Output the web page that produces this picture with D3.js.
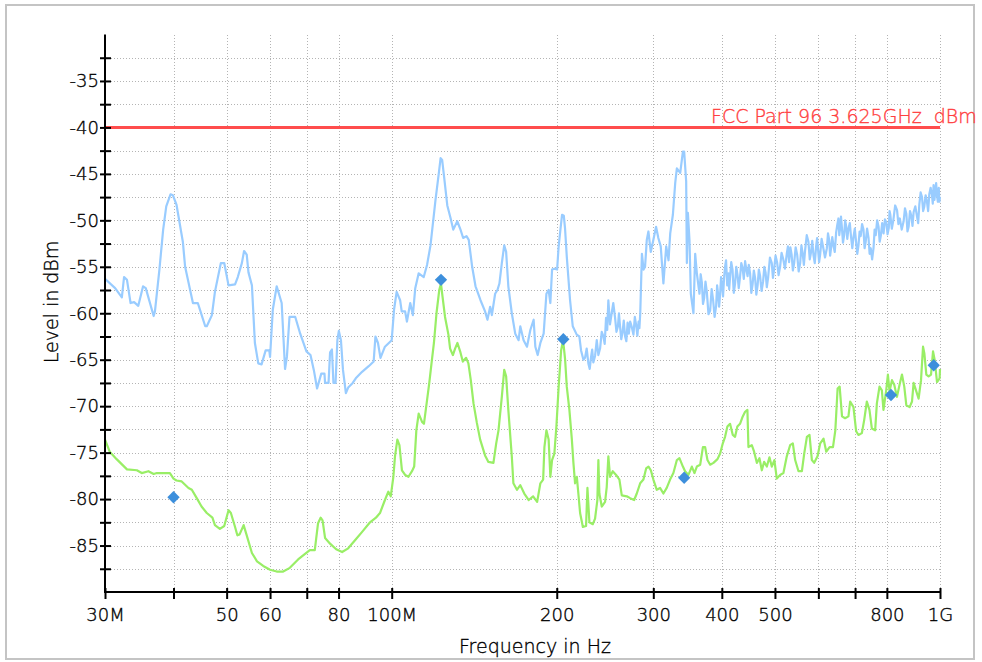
<!DOCTYPE html>
<html>
<head>
<meta charset="utf-8">
<script src="https://cdn.jsdelivr.net/npm/d3@7"></script>
<style>
  html, body { margin: 0; padding: 0; background: #fff; }
  svg { display: block; }
  text { font-family: "DejaVu Sans", sans-serif; font-weight: 300; fill: #000; stroke: #000; stroke-width: 0.35px; }
</style>
</head>
<body>
<svg id="chart" width="982" height="662"></svg>
<script>
// Frequency axis (MHz) ticks and labels ("" = tick without label)
const xTickFreqs  = [30, 40, 50, 60, 70, 80, 100, 200, 300, 400, 500, 600, 700, 800, 1000];
const xTickLabels = ["30M", "", "50", "60", "", "80", "100M", "200", "300", "400", "500", "", "", "800", "1G"];

// Level axis (dBm): labelled ticks and intermediate ticks
const yMajorLevels = [-35, -40, -45, -50, -55, -60, -65, -70, -75, -80, -85];
const yMinorLevels = [-32.5, -37.5, -42.5, -47.5, -52.5, -57.5, -62.5, -67.5, -72.5, -77.5, -82.5, -87.5];

// Limit line
const limitLevel = -40;
const limitLabel = "FCC Part 96 3.625GHz  dBm";

// Peak trace: [frequency MHz, level dBm]
const peakTrace = [
  [30.0,-56.3],[31.3,-57.3],[32.2,-58.3],[32.5,-56.1],[32.9,-56.4],[33.4,-58.9],[33.9,-58.8],[34.5,-59.2],
  [35.2,-57.1],[35.6,-57.3],[36.8,-60.3],[37.0,-59.8],[37.7,-55.3],[38.3,-51.0],[38.8,-48.5],[39.5,-47.2],
  [39.9,-47.3],[40.5,-48.3],[41.6,-52.3],[42.0,-55.0],[43.4,-58.9],[44.3,-58.9],[44.8,-59.8],[45.7,-61.4],
  [46.0,-61.4],[47.0,-60.2],[47.6,-57.7],[48.8,-54.6],[49.5,-54.6],[50.4,-57.0],[51.8,-56.9],[52.4,-56.1],
  [53.3,-54.6],[53.8,-53.3],[54.4,-53.7],[54.8,-55.6],[55.6,-57.0],[56.3,-63.2],[57.1,-65.4],[57.9,-65.5],
  [58.9,-64.0],[59.8,-64.0],[60.0,-64.7],[60.7,-59.6],[61.7,-57.1],[63.0,-58.9],[63.9,-66.0],[64.4,-64.7],
  [65.1,-60.4],[66.7,-60.4],[68.1,-62.2],[69.9,-64.1],[71.1,-64.5],[72.1,-66.1],[73.1,-68.1],[74.4,-66.5],
  [75.4,-66.5],[75.6,-67.5],[76.7,-67.5],[77.2,-64.2],[77.8,-63.9],[78.3,-67.5],[79.0,-67.5],[79.6,-62.9],
  [80.1,-61.9],[80.8,-62.9],[81.5,-66.1],[82.5,-68.6],[83.3,-68.0],[84.9,-67.5],[86.0,-67.0],[88.3,-66.3],
  [90.8,-65.7],[92.7,-65.2],[93.4,-62.5],[94.4,-63.2],[95.4,-64.8],[97.2,-63.6],[100.0,-62.9],[101.0,-59.6],
  [102.1,-57.7],[103.6,-58.6],[104.3,-59.8],[105.8,-59.8],[106.6,-60.9],[108.1,-58.9],[109.3,-60.2],[110.4,-57.3],
  [112.0,-55.7],[114.4,-56.1],[116.0,-54.8],[117.7,-52.7],[120.2,-47.8],[121.9,-44.9],[122.8,-43.3],[123.6,-43.5],
  [124.5,-45.1],[126.3,-48.4],[128.1,-49.8],[129.5,-51.0],[131.7,-50.1],[133.5,-51.0],[135.0,-51.9],[136.9,-51.7],
  [138.2,-52.1],[140.2,-55.0],[142.2,-57.1],[145.2,-58.6],[148.0,-59.8],[149.5,-60.7],[151.2,-59.3],[152.3,-60.2],
  [154.4,-57.9],[155.9,-57.5],[157.2,-56.8],[158.8,-54.6],[160.4,-52.7],[161.7,-53.4],[163.2,-57.1],[165.6,-60.0],
  [168.0,-62.2],[170.4,-62.9],[171.6,-61.4],[174.0,-62.9],[176.5,-63.6],[179.0,-61.8],[181.5,-60.7],[182.8,-63.6],
  [184.6,-64.5],[186.7,-63.2],[189.3,-62.2],[191.5,-57.9],[193.3,-57.5],[194.7,-58.9],[196.1,-55.3],[198.0,-55.2],
  [200.3,-55.3],[201.6,-52.8],[203.1,-51.0],[204.5,-49.4],[206.0,-49.5],[207.1,-50.9],[208.6,-53.9],[211.5,-58.6],
  [213.9,-61.4],[217.5,-62.3],[219.9,-62.5],[221.5,-64.0],[223.7,-65.0],[225.2,-64.8],[226.8,-63.8],[228.4,-65.4],
  [229.7,-66.0],[231.0,-64.7],[232.1,-63.9],[233.2,-65.3],[234.9,-64.6],[236.6,-62.9],[238.2,-64.5],[239.9,-63.8],
  [241.6,-62.0],[243.3,-62.5],[244.6,-63.3],[246.0,-60.5],[247.2,-61.8],[248.4,-58.6],[250.1,-61.2],[251.9,-60.0],
  [253.6,-58.9],[255.4,-60.4],[257.0,-62.0],[258.6,-61.4],[259.7,-60.0],[260.8,-61.3],[262.2,-62.8],[263.6,-62.1],
  [265.0,-60.8],[266.5,-62.5],[267.9,-63.0],[269.3,-61.0],[270.7,-62.2],[272.2,-60.9],[274.1,-61.5],[276.0,-62.3],
  [277.6,-60.4],[279.2,-61.3],[280.6,-62.4],[282.0,-60.9],[283.0,-61.6],[284.0,-60.0],
  [286.0,-53.6],[288.0,-55.3],[289.8,-55.0],[291.9,-52.1],[293.9,-51.2],[296.8,-53.4],
  [300.1,-52.1],[303.5,-50.7],[306.4,-51.9],[309.5,-52.8],[313.0,-56.8],[316.7,-52.8],[319.8,-54.3],[322.1,-51.4],
  [325.7,-49.4],[328.9,-46.0],[331.2,-44.4],[335.9,-44.9],[339.7,-42.6],[341.5,-42.6],[344.4,-45.8],[345.4,-54.6],
  [346.9,-49.2],[349.2,-52.1],[351.2,-57.9],[355.1,-60.0],[357.7,-53.6],[360.2,-55.7],[364.2,-57.9],[366.0,-55.8],
  [367.9,-56.7],[369.6,-59.0],[371.4,-58.4],[373.5,-56.6],[375.6,-57.7],[378.2,-60.1],[380.9,-59.7],[383.3,-57.4],
  [385.7,-58.6],[388.1,-60.4],[390.6,-59.2],[392.2,-57.0],[393.9,-58.0],[395.5,-59.3],[397.2,-57.9],[398.8,-56.1],
  [400.5,-57.0],[402.1,-58.2],[403.8,-56.2],[405.5,-55.0],[407.2,-54.3],[409.2,-57.0],[411.2,-55.7],[412.6,-57.4],
  [414.1,-56.1],[416.2,-54.5],[418.4,-55.3],[420.6,-57.8],[422.9,-56.8],[425.1,-55.0],[427.3,-55.9],[429.5,-57.3],
  [431.8,-56.1],[434.1,-54.6],[436.4,-55.1],[438.7,-56.3],[441.1,-54.4],[443.4,-55.3],[445.7,-56.0],[448.0,-54.8],
  [450.4,-55.7],[452.8,-57.8],[455.2,-56.9],[457.6,-55.4],[460.0,-56.2],[462.4,-58.0],[464.9,-57.0],[467.3,-55.3],
  [469.8,-56.0],[472.7,-57.6],[475.7,-56.6],[478.2,-55.0],[480.7,-55.6],[483.2,-57.2],[485.8,-56.2],[489.6,-54.0],
  [493.4,-54.6],[495.8,-56.2],[498.2,-55.3],[501.3,-53.8],[504.5,-54.5],[507.7,-55.9],[510.9,-55.0],[514.1,-53.5],
  [517.4,-54.1],[521.4,-55.2],[525.5,-53.6],[528.0,-52.8],[530.6,-54.5],[533.4,-52.9],[536.3,-53.7],[539.1,-55.4],
  [542.0,-54.6],[545.4,-52.9],[548.9,-53.7],[552.4,-55.5],[555.9,-54.6],[558.8,-52.7],[561.8,-53.6],[564.6,-54.8],
  [567.5,-53.2],[571.5,-51.6],[575.5,-52.3],[578.7,-54.2],[582.0,-53.4],[584.8,-52.2],[587.7,-53.7],[591.0,-54.6],
  [594.4,-52.8],[596.9,-51.9],[599.4,-53.2],[601.9,-54.5],[604.5,-53.7],[608.3,-52.0],[612.2,-52.9],[617.0,-54.0],
  [621.8,-53.0],[624.8,-51.4],[627.8,-52.1],[630.4,-53.8],[633.1,-52.9],[636.1,-51.8],[639.2,-52.7],[642.8,-53.4],
  [646.5,-51.3],[649.6,-50.5],[652.8,-49.8],[655.1,-51.6],[657.5,-50.8],[659.8,-49.6],[662.2,-50.7],[665.4,-52.4],
  [668.6,-51.6],[671.4,-50.0],[674.3,-50.6],[677.5,-52.0],[680.8,-50.9],[684.7,-50.3],[688.6,-51.9],[691.9,-53.0],
  [695.3,-51.8],[699.2,-50.9],[703.2,-52.4],[706.6,-53.6],[710.1,-52.7],[713.4,-51.2],[716.7,-51.7],[720.9,-50.4],
  [725.2,-51.0],[728.6,-53.0],[732.0,-52.3],[736.3,-50.9],[740.7,-51.9],[744.1,-53.6],[747.6,-53.0],[752.0,-54.2],
  [756.4,-53.0],[759.9,-51.0],[763.5,-51.6],[768.0,-50.0],[772.6,-50.7],[776.2,-52.3],[779.8,-51.7],[784.4,-50.3],
  [789.0,-51.4],[793.5,-49.9],[798.1,-50.2],[802.3,-51.5],[806.6,-50.8],[809.1,-49.0],[811.7,-49.4],[816.8,-50.9],
  [822.0,-50.0],[828.4,-48.4],[834.9,-48.9],[839.8,-50.4],[844.7,-49.8],[851.5,-51.0],[858.3,-50.1],[863.2,-48.7],
  [868.1,-49.3],[872.3,-51.2],[876.6,-50.7],[881.6,-49.0],[886.6,-49.5],[890.9,-50.6],[895.2,-49.1],[901.6,-48.5],
  [908.0,-49.6],[912.4,-50.3],[916.8,-48.3],[922.0,-47.0],[927.2,-47.5],[931.7,-49.0],[936.2,-48.5],[941.5,-47.3],
  [946.8,-48.0],[951.4,-49.0],[956.0,-47.2],[961.4,-46.5],[966.9,-47.3],[970.1,-48.2],[973.4,-46.2],[976.9,-47.8],
  [980.4,-47.0],[983.9,-46.0],[987.4,-47.3],[991.1,-48.0],[994.9,-46.5],[997.4,-48.0],[1000,-47.5]
];

// Average trace: [frequency MHz, level dBm]
const averageTrace = [
  [30.0,-73.6],[30.6,-74.9],[31.5,-75.7],[32.9,-76.8],[34.3,-76.9],[35.0,-77.2],[36.0,-77.0],[36.8,-77.3],
  [37.3,-77.2],[39.4,-77.2],[40.0,-77.8],[40.5,-78.0],[41.4,-78.1],[42.6,-78.8],[43.2,-79.0],[44.1,-79.9],
  [45.0,-80.8],[46.0,-81.5],[47.1,-82.0],[47.6,-82.8],[48.6,-83.2],[49.5,-82.9],[50.4,-81.2],[50.9,-81.5],
  [51.8,-83.0],[52.3,-83.9],[52.8,-83.8],[53.7,-82.8],[54.4,-83.9],[55.6,-85.8],[56.8,-86.7],[58.3,-87.2],
  [60.0,-87.6],[61.7,-87.8],[63.4,-87.8],[65.2,-87.4],[67.5,-86.5],[70.9,-85.5],[72.4,-85.5],[73.4,-82.6],
  [74.2,-82.0],[74.8,-82.3],[75.6,-84.2],[77.2,-84.8],[79.2,-85.4],[81.2,-85.7],[83.3,-85.3],[85.8,-84.4],
  [88.4,-83.5],[91.3,-82.5],[93.6,-82.0],[95.2,-81.5],[97.2,-80.1],[98.6,-79.2],[99.6,-79.7],[100.7,-77.6],
  [101.4,-75.4],[102.4,-73.6],[103.3,-74.2],[104.4,-76.9],[105.8,-77.4],[107.3,-77.6],[108.9,-77.0],[109.9,-76.5],
  [110.9,-72.6],[112.0,-70.8],[113.6,-71.7],[114.5,-71.9],[115.8,-69.7],[117.1,-67.5],[118.2,-65.4],[119.4,-63.2],
  [120.7,-60.0],[122.1,-57.5],[123.0,-56.8],[123.8,-58.2],[125.1,-60.4],[126.9,-62.3],[127.8,-63.8],[129.3,-64.5],
  [130.5,-63.8],[131.8,-63.2],[133.3,-64.1],[134.8,-65.2],[136.7,-64.8],[138.0,-65.4],[139.4,-67.2],[141.0,-69.7],
  [143.0,-71.8],[145.0,-73.6],[148.0,-75.3],[150.1,-76.0],[153.3,-76.1],[155.1,-74.0],[156.6,-72.6],[158.8,-69.0],
  [160.4,-66.1],[161.7,-66.8],[163.2,-70.4],[165.6,-75.4],[166.7,-78.3],[169.2,-79.0],[171.6,-78.5],[174.5,-79.4],
  [177.8,-80.1],[181.1,-79.7],[184.2,-80.3],[186.7,-78.3],[188.9,-77.9],[189.9,-74.4],[191.5,-72.6],[193.3,-73.6],
  [194.7,-77.6],[196.1,-75.8],[198.0,-75.1],[199.7,-72.2],[201.6,-67.9],[203.7,-64.0],[205.4,-62.9],[207.1,-64.9],
  [208.6,-67.9],[210.9,-70.4],[213.1,-73.6],[214.5,-76.1],[216.0,-78.3],[217.6,-77.6],[219.0,-79.4],[220.6,-81.5],
  [223.2,-83.0],[226.2,-82.9],[227.5,-78.8],[229.4,-82.5],[232.7,-82.7],[234.9,-82.1],[237.2,-80.1],[238.2,-75.8],
  [239.2,-79.4],[241.6,-80.8],[245.0,-80.3],[246.7,-78.7],[248.4,-75.4],[250.2,-77.6],[253.0,-77.0],[256.6,-77.4],
  [260.2,-77.9],[262.8,-79.6],[268.4,-79.7],[272.2,-79.9],[276.8,-80.1],[279.9,-79.4],[283.9,-78.3],[287.8,-77.9],
  [291.1,-76.7],[294.0,-76.5],[296.9,-76.9],[300.1,-77.9],[304.4,-79.0],[308.6,-78.8],[313.0,-79.4],[317.4,-78.8],
  [321.9,-77.9],[326.4,-77.2],[331.2,-75.8],[334.8,-75.6],[339.7,-76.5],[342.8,-77.0],[347.7,-77.4],[352.7,-76.5],
  [356.6,-77.2],[360.2,-76.5],[365.3,-76.3],[369.5,-74.4],[372.9,-74.4],[376.6,-75.8],[380.9,-76.3],[386.2,-76.1],
  [392.8,-75.7],[397.2,-75.1],[401.7,-74.0],[405.5,-73.3],[409.5,-72.2],[414.1,-71.9],[418.9,-73.1],[422.9,-73.3],
  [427.0,-72.2],[431.8,-71.9],[436.8,-71.1],[441.1,-70.6],[445.4,-70.4],[447.3,-74.4],[453.7,-74.2],[458.1,-74.9],
  [463.4,-76.1],[468.5,-75.6],[473.2,-76.9],[477.8,-76.0],[483.3,-76.5],[488.6,-75.5],[493.4,-76.5],[498.8,-75.8],
  [503.9,-77.8],[510.9,-77.4],[518.1,-77.2],[525.5,-75.4],[532.9,-74.2],[539.0,-74.0],[544.3,-75.8],[552.0,-77.0],
  [559.9,-77.0],[565.4,-75.1],[571.8,-73.3],[578.1,-73.1],[583.9,-75.8],[589.6,-76.1],[597.9,-75.4],[604.7,-74.0],
  [613.2,-73.5],[620.3,-74.9],[629.0,-74.4],[638.0,-74.4],[644.3,-72.6],[650.5,-68.1],[656.1,-67.9],[662.7,-71.1],
  [671.2,-71.3],[680.8,-71.1],[685.7,-69.5],[695.3,-70.1],[703.2,-72.7],[710.1,-73.1],[720.3,-72.9],[727.3,-71.5],
  [735.5,-69.5],[743.6,-70.4],[751.1,-72.4],[761.6,-72.6],[767.1,-69.7],[775.6,-67.9],[783.4,-68.3],[788.7,-70.4],
  [797.8,-68.3],[803.5,-66.6],[809.0,-68.4],[817.3,-67.2],[825.2,-67.7],[834.6,-69.0],[843.8,-67.7],[852.4,-66.6],
  [860.7,-67.9],[868.1,-69.9],[880.2,-70.1],[889.1,-69.5],[895.1,-67.5],[905.3,-68.4],[914.1,-69.2],[923.4,-67.2],
  [931.2,-63.6],[936.3,-64.3],[944.2,-66.6],[953.4,-66.8],[963.0,-66.6],[971.2,-64.1],[977.7,-65.0],[987.6,-67.4],
  [998.4,-67.0],[1000,-66.0]
];

// Peak markers: [frequency MHz, level dBm]
const markerPoints = [[40.0,-79.8],[123.0,-56.4],[205.6,-62.8],[341.5,-77.7],[814.0,-68.8],[974.0,-65.6]];

const svg = d3.select("#chart");
const W = 982, H = 662;
const plot = { left: 105, right: 940, top: 34.5, bottom: 592 };

// frame
svg.append("rect").attr("x", 0).attr("y", 0).attr("width", W).attr("height", H).attr("fill", "#fff");
svg.append("rect").attr("x", 6).attr("y", 5).attr("width", 968).attr("height", 654)
  .attr("fill", "#fff").attr("stroke", "#c4c4c4").attr("stroke-width", 2);

const x = d3.scaleLog().domain([30, 1000]).range([plot.left, plot.right]);
const y = d3.scaleLinear().domain([-90, -30]).range([plot.bottom, plot.top]);

// grid
const grid = svg.append("g").attr("stroke", "#b4b4b4").attr("stroke-width", 1)
  .attr("stroke-dasharray", "1,2").attr("shape-rendering", "crispEdges");
grid.selectAll("line.h").data(yMajorLevels.concat(yMinorLevels)).join("line").attr("class", "h")
  .attr("x1", plot.left).attr("x2", plot.right)
  .attr("y1", d => Math.round(y(d)) + 0.5).attr("y2", d => Math.round(y(d)) + 0.5);
grid.selectAll("line.v").data(xTickFreqs.slice(1)).join("line").attr("class", "v")
  .attr("x1", d => Math.round(x(d)) + 0.5).attr("x2", d => Math.round(x(d)) + 0.5)
  .attr("y1", plot.top).attr("y2", plot.bottom);

// traces
svg.append("clipPath").attr("id", "plotClip").append("rect")
  .attr("x", plot.left).attr("y", plot.top - 2).attr("width", plot.right - plot.left + 2).attr("height", plot.bottom - plot.top + 2);

const line = d3.line().x(d => x(d[0])).y(d => y(d[1]));
const traces = svg.append("g").attr("clip-path", "url(#plotClip)");
traces.append("path").datum(peakTrace).attr("d", line)
  .attr("fill", "none").attr("stroke", "#99ccff").attr("stroke-width", 2.2).attr("stroke-linejoin", "round");
traces.append("path").datum(averageTrace).attr("d", line)
  .attr("fill", "none").attr("stroke", "#99ee66").attr("stroke-width", 2.2).attr("stroke-linejoin", "round");

// limit line and label
svg.append("line")
  .attr("x1", plot.left).attr("x2", plot.right)
  .attr("y1", y(limitLevel)).attr("y2", y(limitLevel))
  .attr("stroke", "#ff4d4d").attr("stroke-width", 3);
svg.append("text").attr("x", 711).attr("y", y(limitLevel) - 4)
  .attr("font-size", 19).style("fill", "#ff4040").style("stroke", "#ff4040")
  .style("white-space", "pre").text(limitLabel);

// markers
svg.append("g").selectAll("path").data(markerPoints).join("path")
  .attr("d", d3.symbol(d3.symbolSquare, 76))
  .attr("transform", d => `translate(${x(d[0])},${y(d[1])}) rotate(45)`)
  .attr("fill", "#3d8fdc");

// y axis
const yAxis = d3.axisLeft(y)
  .tickValues(yMajorLevels.concat(yMinorLevels))
  .tickFormat(d => yMajorLevels.includes(d) ? String(d) : "")
  .tickSizeOuter(0);
const gy = svg.append("g").attr("transform", `translate(${plot.left},0)`).call(yAxis);
gy.select(".domain").remove();
gy.selectAll(".tick line").attr("x1", 6).attr("x2", -5).attr("stroke", "#000").attr("stroke-width", 2);
gy.selectAll(".tick text").attr("x", -6).attr("font-size", 18).attr("font-family", null);
svg.append("line").attr("x1", plot.left).attr("x2", plot.left).attr("y1", plot.top).attr("y2", plot.bottom + 1)
  .attr("stroke", "#000").attr("stroke-width", 2);

// x axis
const xAxis = d3.axisBottom(x)
  .tickValues(xTickFreqs)
  .tickFormat((d, i) => xTickLabels[i])
  .tickSizeOuter(0);
const gx = svg.append("g").attr("transform", `translate(0,${plot.bottom})`).call(xAxis);
gx.select(".domain").remove();
gx.selectAll(".tick line").attr("y1", -4).attr("y2", 7).attr("stroke", "#000").attr("stroke-width", 2);
gx.selectAll(".tick text").attr("y", 16).attr("font-size", 18).attr("font-family", null);
svg.append("line").attr("x1", plot.left - 1).attr("x2", plot.right + 1).attr("y1", plot.bottom).attr("y2", plot.bottom)
  .attr("stroke", "#000").attr("stroke-width", 2);

// axis titles
svg.append("text").attr("x", 535).attr("y", 653).attr("text-anchor", "middle")
  .attr("font-size", 19).text("Frequency in Hz");
svg.append("text").attr("transform", "translate(58,302) rotate(-90)").attr("text-anchor", "middle")
  .attr("font-size", 19).text("Level in dBm");
</script>
</body>
</html>
